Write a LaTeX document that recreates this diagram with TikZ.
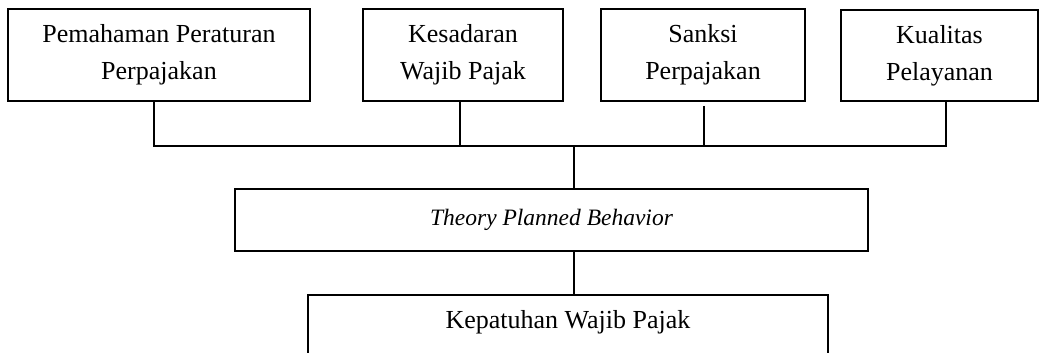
\documentclass[tikz,border=0pt]{standalone}
\usepackage{fontspec}
\setmainfont{Liberation Serif}
\begin{document}
\begin{tikzpicture}[x=1pt,y=-1pt,
  box/.style={draw,line width=1.8pt,inner sep=0pt,align=center,
    font=\fontsize{26}{37}\selectfont},
  link/.style={line width=1.8pt}]
\useasboundingbox (0,0) rectangle (1039,353);
\node[box,minimum width=302pt,minimum height=92pt] (b1) at (159,55) {Pemahaman Peraturan\\Perpajakan};
\node[box,minimum width=200pt,minimum height=92pt] (b2) at (463,55) {Kesadaran\\Wajib Pajak};
\node[box,minimum width=204pt,minimum height=92pt] (b3) at (703,55) {Sanksi\\Perpajakan};
\node[box,minimum width=197pt,minimum height=91pt] (b4) at (939.5,55.5) {Kualitas\\Pelayanan};
\node[box,minimum width=633pt,minimum height=62pt,font=\fontsize{23.5}{30}\selectfont\itshape] (tpb) at (551.5,220) {Theory Planned Behavior};
\node[inner sep=0pt,font=\fontsize{26}{37}\selectfont] (kwp) at (568,322) {Kepatuhan Wajib Pajak};
\coordinate (k1) at (308,370);
\coordinate (k2) at (308,295);
\coordinate (k3) at (828,295);
\coordinate (k4) at (828,370);
\coordinate (j1) at (154,146);
\coordinate (j2) at (460,146);
\coordinate (j3) at (704,146);
\coordinate (j4) at (946,146);
\coordinate (jc) at (574,146);
\draw[link] (k1) -- (k2) -- (k3) -- (k4);
\draw[link] (b1.south -| j1) -- (j1);
\draw[link] (b2.south -| j2) -- (j2);
\draw[link] ([yshift=-4pt]b3.south -| j3) -- (j3);
\draw[link] (b4.south -| j4) -- (j4);
\draw[link] ([xshift=-0.9pt]j1) -- ([xshift=0.9pt]j4);
\draw[link] (jc) -- (tpb.north -| jc);
\draw[link] (tpb.south -| jc) -- (k2 -| jc);
\end{tikzpicture}
\end{document}
